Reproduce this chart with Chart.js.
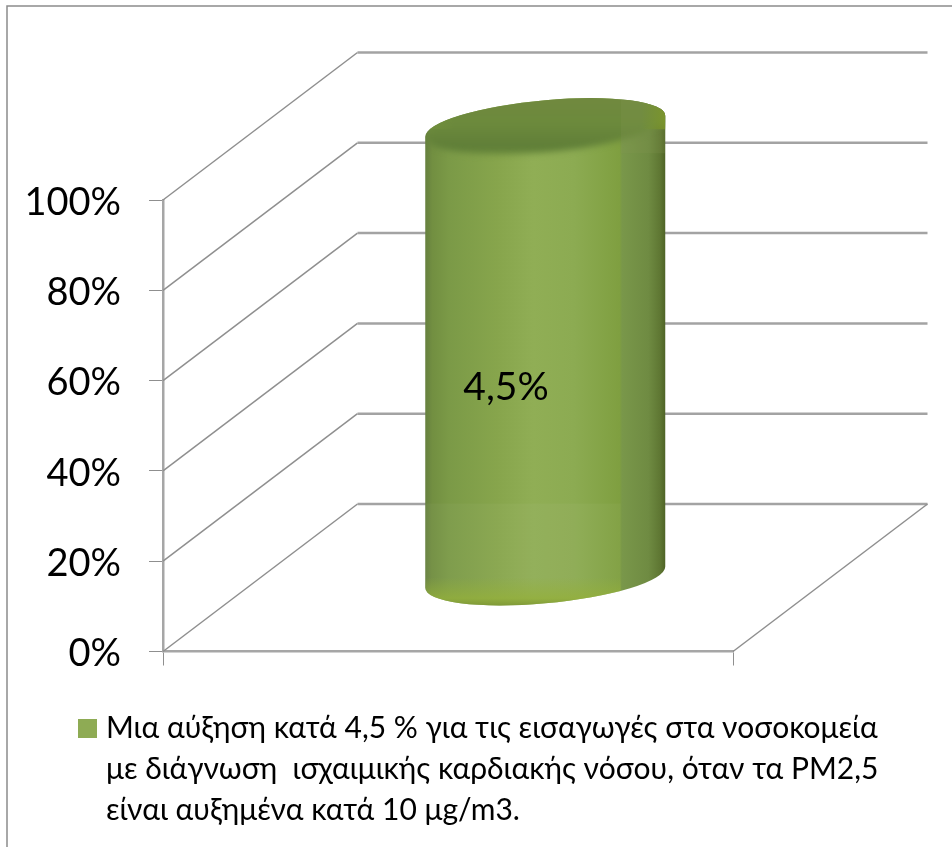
<!DOCTYPE html>
<html><head><meta charset="utf-8">
<style>html,body{margin:0;padding:0;background:#fff}canvas{display:block}</style>
<script src="https://cdn.jsdelivr.net/npm/chart.js@4/dist/chart.umd.min.js"></script>
</head><body><canvas id="c" width="952" height="847"></canvas>
<script>
const categories = ['PM2,5'];
const legendLines = [
  'Μια αύξηση κατά 4,5 % για τις εισαγωγές στα νοσοκομεία',
  'με διάγνωση  ισχαιμικής καρδιακής νόσου, όταν τα PM2,5',
  'είναι αυξημένα κατά 10 μg/m3.'
];
const stackedShare = [100];
const dataLabels = ['4,5%'];
const tickStep = 20;
const FONT = 'Lato, "Open Sans", sans-serif';

const depth = {x: 194.5, y: -147.5};

const frame = {
  id: 'frame',
  beforeDraw(chart) {
    const c = chart.ctx;
    c.save();
    c.strokeStyle = '#8c8c8c'; c.lineWidth = 1.5;
    c.beginPath(); c.moveTo(7, chart.height); c.lineTo(7, 6); c.lineTo(chart.width, 6); c.stroke();
    c.restore();
  }
};

// room for the three legend lines, which the legend's own fit counts as one
const legendBox = {
  id: 'legendBox',
  afterLayout(chart) {
    const l = chart.legend;
    l.left = 74; l.right = chart.width; l.width = l.right - l.left;
    l.top = 703.5; l.bottom = chart.height; l.height = l.bottom - l.top;
  }
};

const walls = {
  id: 'walls',
  beforeDatasetsDraw(chart) {
    const c = chart.ctx, y = chart.scales.y, a = chart.chartArea;
    c.save();
    y.ticks.forEach(t => {
      const py = y.getPixelForValue(t.value);
      c.strokeStyle = '#8f8f8f'; c.lineWidth = 1.5;
      c.beginPath(); c.moveTo(a.left, py); c.lineTo(a.left + depth.x, py + depth.y); c.stroke();
      c.strokeStyle = '#a3a3a3'; c.lineWidth = 2.5;
      c.beginPath(); c.moveTo(a.left + depth.x, py + depth.y); c.lineTo(a.right + depth.x, py + depth.y); c.stroke();
    });
    const y0 = y.getPixelForValue(0);
    c.strokeStyle = '#8f8f8f'; c.lineWidth = 1.5;
    c.beginPath(); c.moveTo(a.right, y0); c.lineTo(a.right + depth.x, y0 + depth.y); c.stroke();
    c.restore();
  }
};

const cylinder = {
  id: 'cylinder',
  afterDatasetsDraw(chart) {
    const c = chart.ctx;
    chart.getDatasetMeta(0).data.forEach((bar, i) => {
      const cx = bar.x + depth.x / 2, topY = bar.y + depth.y / 2, botY = bar.base + depth.y / 2;
      const A = bar.width / 2 + 0.5, B = 26, rot = -0.092;
      const t0 = Math.atan2(-B * Math.sin(rot), A * Math.cos(rot));
      const L = cx - bar.width / 2, R = cx + bar.width / 2;
      const seam = L + bar.width * 0.815;

      const hGrad = (stops) => {
        const g = c.createLinearGradient(L, 0, R, 0);
        stops.forEach(s => g.addColorStop(s[0], s[1]));
        return g;
      };
      c.save();
      c.beginPath();
      c.ellipse(cx, botY, A, B, rot, t0, t0 + Math.PI, false);
      c.ellipse(cx, topY, A, B, rot, t0 + Math.PI, t0 + 2 * Math.PI, false);
      c.closePath();
      c.fillStyle = hGrad([[0,'#66803f'],[0.03,'#728f41'],[0.1,'#7b9a47'],[0.3,'#87a54c'],[0.45,'#90ae55'],
        [0.62,'#8cab52'],[0.81,'#7f9f40'],[0.82,'#79974a'],[0.93,'#6f8b42'],[0.98,'#5e7632'],[1,'#4f6426']]);
      c.fill();
      c.clip();

      // faint step where the floor's back edge shows through
      c.fillStyle = 'rgba(255,255,255,0.035)';
      c.fillRect(L, bar.base + depth.y, seam - L, botY + B + 6 - bar.base - depth.y);

      // lighter bottom rim
      const rim = c.createLinearGradient(0, botY, 0, botY + B + 4);
      rim.addColorStop(0, 'rgba(148,176,58,0)');
      rim.addColorStop(0.7, 'rgba(148,176,58,0.75)');
      rim.addColorStop(1, 'rgba(120,145,50,0.9)');
      c.fillStyle = rim;
      c.fillRect(L, botY, seam - L, B + 6);

      // top face, with a soft lower edge
      c.save();
      c.filter = 'blur(3px)';
      c.beginPath();
      c.ellipse(cx, topY, A, B, rot, 0, 2 * Math.PI);
      c.rect(L - 12, topY - B - 12, bar.width + 24, B + 12);
      const v = c.createLinearGradient(0, topY - B - 3, 0, topY + B + 3);
      v.addColorStop(0, '#71893f');
      v.addColorStop(0.45, '#6c8a3c');
      v.addColorStop(0.88, '#5f7e38');
      v.addColorStop(1, '#6f8f3f');
      c.fillStyle = v;
      c.fill('nonzero');
      c.restore();
      c.fillStyle = 'rgba(130,150,80,0.22)';
      c.fillRect(seam, topY - B - 5, R - seam, 2 * B + 6);
      c.fillStyle = hGrad([[0,'rgba(120,150,60,0.55)'],[0.12,'rgba(120,150,60,0)'],[0.9,'rgba(120,150,40,0)'],[1,'rgba(125,150,40,0.8)']]);
      c.fillRect(L, topY - B - 5, bar.width, B + 8);
      c.restore();

      c.save();
      c.fillStyle = '#000';
      c.font = '39px ' + FONT;
      c.textAlign = 'center'; c.textBaseline = 'middle';
      c.fillText(dataLabels[i], bar.x + 58, (bar.y + bar.base) / 2 - 38);
      c.restore();
    });
  }
};

new Chart(document.getElementById('c'), {
  type: 'bar',
  data: {
    labels: categories,
    datasets: [{
      label: legendLines.join(' '),
      data: stackedShare,
      backgroundColor: 'transparent',
      barPercentage: 0.421,
      categoryPercentage: 1
    }]
  },
  plugins: [frame, legendBox, walls, cylinder],
  options: {
    responsive: false,
    animation: false,
    layout: {padding: {left: 0, right: 219, top: 200, bottom: 0}},
    plugins: {
      tooltip: {enabled: false},
      legend: {
        position: 'bottom', align: 'start',
        labels: {
          font: {family: FONT, size: 30, lineHeight: 41 / 30},
          color: '#000',
          boxWidth: 7, boxHeight: 7,
          padding: 10,
          generateLabels: () => [{
            text: legendLines, fillStyle: '#8eab54', strokeStyle: '#8eab54', lineWidth: 12,
            hidden: false, datasetIndex: 0
          }]
        }
      }
    },
    scales: {
      x: {
        ticks: {display: false},
        afterFit: s => { s.height = 145.5; },
        grid: {drawOnChartArea: false, drawTicks: true, tickLength: 14, color: '#8f8f8f', lineWidth: 1},
        border: {color: '#a6a6a6', width: 2.5}
      },
      y: {
        min: 0, max: 100,
        afterFit: s => { s.width = 163; },
        ticks: {stepSize: tickStep, padding: 28, labelOffset: 2.5, color: '#000', font: {family: FONT, size: 38},
          callback: v => v + '%'},
        grid: {drawOnChartArea: false, drawTicks: true, tickLength: 14, color: '#8f8f8f', lineWidth: 1},
        border: {color: '#a6a6a6', width: 2.5}
      }
    }
  }
});
</script></body></html>
